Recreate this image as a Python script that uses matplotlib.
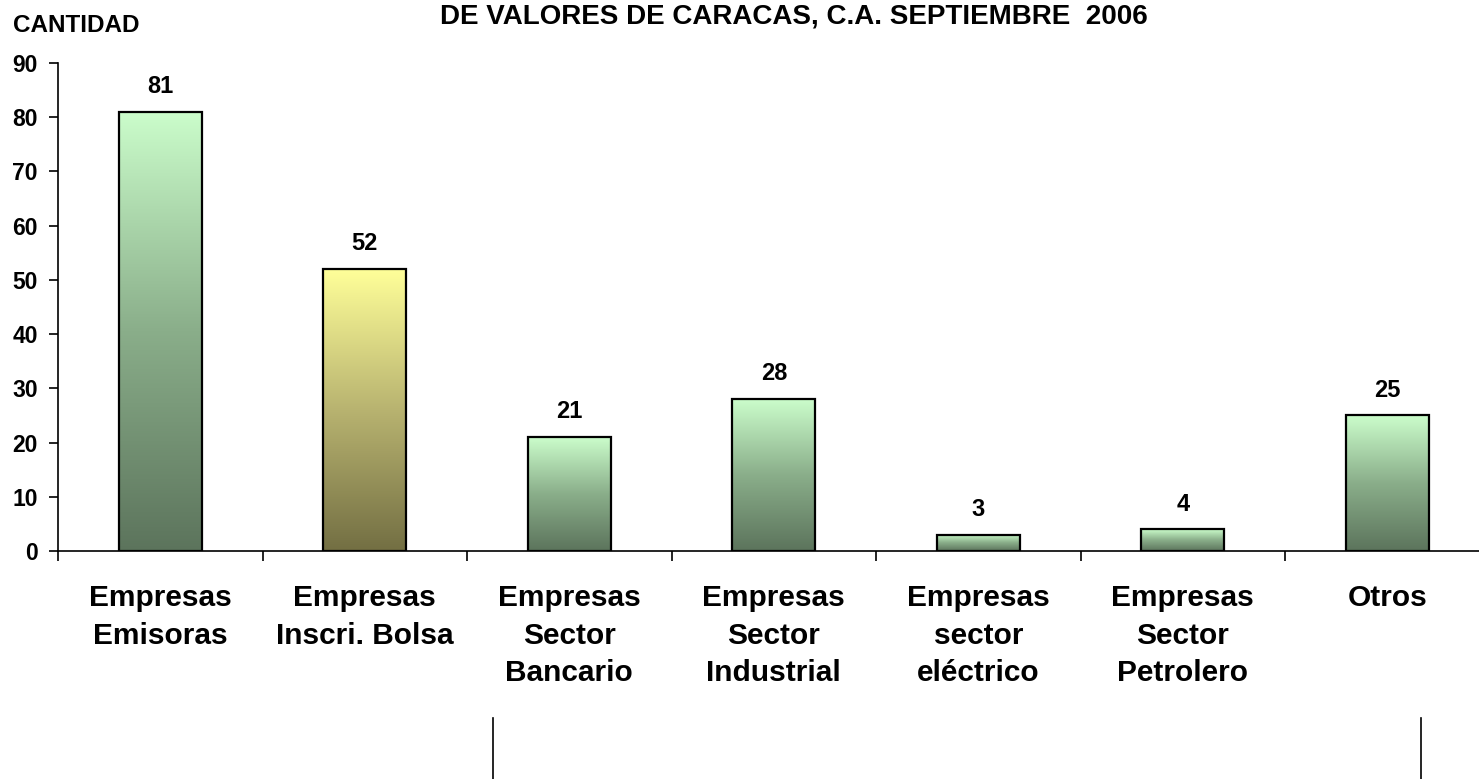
import numpy as np
import matplotlib
matplotlib.use("Agg")
import matplotlib.pyplot as plt
from matplotlib.colors import LinearSegmentedColormap
from matplotlib.lines import Line2D

plt.rcParams['font.family'] = ['Liberation Sans', 'DejaVu Sans']
plt.rcParams['font.weight'] = 'bold'

categorias = ['Empresas\nEmisoras', 'Empresas\nInscri. Bolsa', 'Empresas\nSector\nBancario',
              'Empresas\nSector\nIndustrial', 'Empresas\nsector\neléctrico',
              'Empresas\nSector\nPetrolero', 'Otros']
cantidades = [81, 52, 21, 28, 3, 4, 25]
paleta = ['verde', 'amarillo', 'verde', 'verde', 'verde', 'verde', 'verde']
titulo = 'DE VALORES DE CARACAS, C.A. SEPTIEMBRE  2006'

gradientes = {
    'verde': LinearSegmentedColormap.from_list('verde', ['#5c745c', '#8aae8a', '#cbfdcb']),
    'amarillo': LinearSegmentedColormap.from_list('amarillo', ['#736f43', '#b8b370', '#ffff99']),
}

fig = plt.figure(figsize=(14.79, 7.79), dpi=100)
ax = fig.add_axes([0.0392, 0.2927, 0.968, 0.6264])

x = np.arange(len(cantidades))
ancho = 0.405
barras = ax.bar(x, cantidades, width=ancho, facecolor='none', edgecolor='black',
                linewidth=1.6, zorder=3)

grad = np.linspace(0, 1, 256).reshape(-1, 1)
for b, tipo in zip(barras, paleta):
    x0, y0 = b.get_x(), b.get_y()
    ax.imshow(grad, cmap=gradientes[tipo], origin='lower', aspect='auto',
              extent=[x0, x0 + b.get_width(), y0, y0 + b.get_height()], zorder=2)

for xi, v in zip(x, cantidades):
    ax.annotate(str(v), (xi, v), xytext=(0, 13.5), textcoords='offset points',
                ha='center', va='baseline', fontsize=17, fontweight='bold')

ax.set_xlim(-0.5, len(cantidades) - 0.5)
ax.set_ylim(0, 90)
ax.set_yticks(range(0, 91, 10))
ax.tick_params(axis='y', labelsize=16.5, length=6.5, width=1.2, direction='out', pad=8)

ax.set_xticks(x)
ax.set_xticklabels(categorias, fontsize=21.5, fontweight='bold', linespacing=1.42)
ax.tick_params(axis='x', length=0, pad=24)
ax.set_xticks(np.arange(-0.5, len(cantidades), 1), minor=True)
ax.tick_params(axis='x', which='minor', length=7, width=1.2, direction='out')

for s in ['top', 'right']:
    ax.spines[s].set_visible(False)
ax.spines['left'].set_linewidth(1.2)
ax.spines['bottom'].set_linewidth(1.2)

fig.text(13 / 1479, (779 - 32) / 779, 'CANTIDAD', fontsize=17.5, fontweight='bold',
         ha='left', va='baseline')
fig.text(794 / 1479, (779 - 23) / 779, titulo, fontsize=20, fontweight='bold',
         ha='center', va='baseline')

# lineas verticales inferiores
for xf in [493 / 1479, 1421 / 1479]:
    fig.add_artist(Line2D([xf, xf], [0, 61 / 779], color='black', linewidth=1.2))

fig.savefig('out.png', dpi=100)
